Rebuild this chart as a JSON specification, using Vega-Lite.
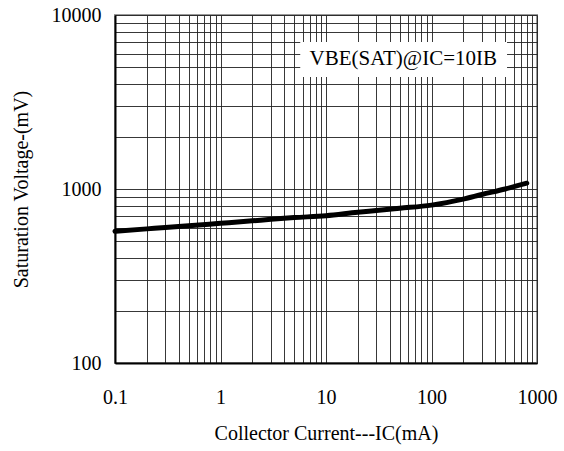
{
  "$schema": "https://vega.github.io/schema/vega-lite/v6.json",
  "width": 422,
  "height": 348,
  "autosize": "none",
  "padding": {"left": 115, "top": 15, "right": 27, "bottom": 88},
  "background": "white",
  "config": {
    "view": {"stroke": "#999999", "strokeWidth": 2},
    "font": "Liberation Serif",
    "axis": {
      "labelFont": "Liberation Serif",
      "titleFont": "Liberation Serif",
      "labelFontSize": 20,
      "titleFontSize": 20,
      "titleFontWeight": "normal",
      "labelColor": "black",
      "titleColor": "black",
      "grid": true,
      "gridColor": "#222222",
      "gridWidth": 1,
      "gridOpacity": 0.9,
      "ticks": false,
      "domainColor": "black",
      "domainWidth": 2
    }
  },
  "datasets": {
    "curve": [
      {"ic": 0.1, "v": 572},
      {"ic": 0.2, "v": 590},
      {"ic": 0.3, "v": 600},
      {"ic": 0.5, "v": 615},
      {"ic": 1, "v": 635},
      {"ic": 2, "v": 656},
      {"ic": 3, "v": 670},
      {"ic": 5, "v": 685},
      {"ic": 10, "v": 702},
      {"ic": 20, "v": 735},
      {"ic": 30, "v": 752},
      {"ic": 50, "v": 775},
      {"ic": 100, "v": 808},
      {"ic": 200, "v": 875},
      {"ic": 300, "v": 930},
      {"ic": 500, "v": 1000},
      {"ic": 800, "v": 1080}
    ],
    "box": [
      {"x1": 5.7, "x2": 520, "y1": 4400, "y2": 7000, "xc": 54, "yc": 5550, "label": "VBE(SAT)@IC=10IB"}
    ]
  },
  "layer": [
    {
      "data": {"name": "box"},
      "mark": {"type": "rect", "fill": "white", "stroke": null},
      "encoding": {
        "x": {
          "field": "x1", "type": "quantitative",
          "scale": {"type": "log", "domain": [0.1, 1000], "nice": false},
          "axis": {
            "title": "Collector Current---IC(mA)",
            "values": [0.1,0.2,0.3,0.4,0.5,0.6,0.7,0.8,0.9,1,2,3,4,5,6,7,8,9,10,20,30,40,50,60,70,80,90,100,200,300,400,500,600,700,800,900,1000],
            "labelExpr": "indexof([0.1,1,10,100,1000], datum.value) >= 0 ? format(datum.value, '~g') : ''",
            "labelPadding": 24,
            "titlePadding": 16,
            "labelFlush": false,
            "labelOverlap": false
          }
        },
        "x2": {"field": "x2"},
        "y": {
          "field": "y1", "type": "quantitative",
          "scale": {"type": "log", "domain": [100, 10000], "nice": false},
          "axis": {
            "title": "Saturation Voltage-(mV)",
            "values": [100,200,300,400,500,600,700,800,900,1000,2000,3000,4000,5000,6000,7000,8000,9000,10000],
            "labelExpr": "indexof([100,1000,10000], datum.value) >= 0 ? format(datum.value, '~g') : ''",
            "labelPadding": 14,
            "titlePadding": 20,
            "labelFlush": false,
            "labelOverlap": false
          }
        },
        "y2": {"field": "y2"}
      }
    },
    {
      "data": {"name": "box"},
      "mark": {"type": "text", "font": "Liberation Serif", "fontSize": 21, "color": "black", "align": "center", "baseline": "middle"},
      "encoding": {
        "x": {"field": "xc", "type": "quantitative"},
        "y": {"field": "yc", "type": "quantitative"},
        "text": {"field": "label"}
      }
    },
    {
      "data": {"name": "curve"},
      "mark": {"type": "line", "color": "black", "strokeWidth": 5, "interpolate": "monotone", "strokeCap": "round"},
      "encoding": {
        "x": {"field": "ic", "type": "quantitative"},
        "y": {"field": "v", "type": "quantitative"}
      }
    }
  ]
}
